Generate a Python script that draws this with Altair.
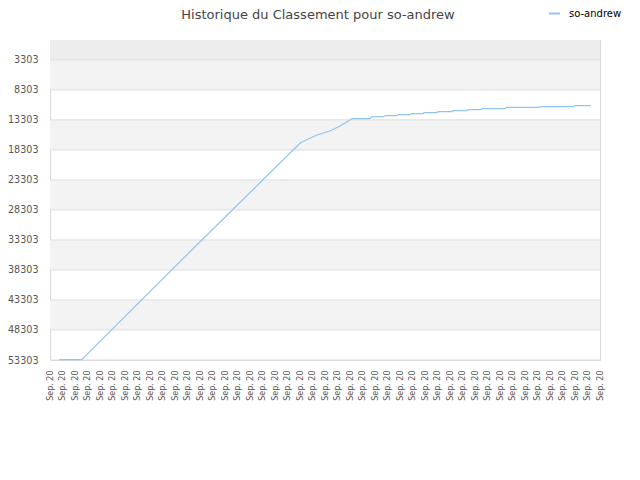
import json
import altair as alt
import pandas as pd

# ---- data ----
x_labels = ["Sep. 20"] * 45
y_ticks = [3303, 8303, 13303, 18303, 23303, 28303, 33303, 38303, 43303, 48303, 53303]

series_name = "so-andrew"
point_x = [0.74, 2.54, 5.42, 11.34, 17.07, 20.04, 21.34, 22.4, 23.2, 24.08,
           24.14, 25.6, 25.74, 26.66, 26.8, 27.74, 27.84, 28.8, 28.94, 29.86,
           29.92, 30.94, 31.04, 32.14, 32.24, 33.34, 33.42, 34.4, 34.56, 36.4,
           36.54, 39.14, 39.26, 41.86, 41.98, 43.26]
point_rank = [53240, 53240, 47256, 34980, 23203, 17124, 15824, 15158, 14325, 13209,
              13109, 13109, 12776, 12776, 12609, 12609, 12443, 12443, 12276, 12276,
              12110, 12110, 11943, 11943, 11776, 11776, 11610, 11610, 11443, 11443,
              11210, 11210, 11110, 11110, 10944, 10944]

band_start = [0, 3303, 13303, 23303, 33303, 43303]
band_end = [3303, 8303, 18303, 28303, 38303, 48303]
band_fill = ["#ededed", "#f3f3f3", "#f3f3f3", "#f3f3f3", "#f3f3f3", "#f3f3f3"]

line_df = pd.DataFrame({"idx": point_x, "rank": point_rank, "series": series_name})
band_df = pd.DataFrame({"y1": band_start, "y2": band_end, "fill": band_fill})

y_scale = alt.Scale(domain=[0, 53303], reverse=True, nice=False, zero=False)
x_scale = alt.Scale(domain=[0, 44], nice=False, zero=False)

y_axis = alt.Axis(values=y_ticks, title=None, grid=False, domain=False, ticks=False,
                  labelPadding=12, labelFontSize=9.6, labelColor="#555555",
                  labelFont="DejaVu Sans", format="d")

bands = alt.Chart(band_df).mark_rect(strokeWidth=0).encode(
    y=alt.Y("y1:Q", scale=y_scale, axis=y_axis),
    y2="y2:Q",
    x=alt.value(0),
    x2=alt.value(550),
    fill=alt.Fill("fill:N", scale=None),
)

grid = alt.Chart(pd.DataFrame({"t": y_ticks})).mark_rule(color="#dddddd", strokeWidth=1).encode(
    y=alt.Y("t:Q", scale=y_scale, axis=y_axis),
    x=alt.value(0),
    x2=alt.value(550),
)

line = alt.Chart(line_df).mark_line(strokeWidth=1.2).encode(
    x=alt.X("idx:Q", scale=x_scale,
            axis=alt.Axis(values=list(range(45)), title=None, grid=False, domain=False,
                          ticks=False, labelAngle=-90, labelAlign="right", labelBaseline="middle",
                          labelPadding=10, labelFontSize=8, labelColor="#555555",
                          labelFont="DejaVu Sans", labelOverlap=False,
                          labelExpr=json.dumps(x_labels) + "[round(datum.value)]")),
    y=alt.Y("rank:Q", scale=y_scale, axis=y_axis),
    color=alt.Color("series:N", scale=alt.Scale(range=["#92c4f2"]),
                    legend=alt.Legend(title=None, orient="none", legendX=498, legendY=-33,
                                      symbolType="stroke", symbolSize=120, symbolStrokeWidth=2,
                                      labelFontSize=10, labelFont="DejaVu Sans",
                                      labelColor="#000000", padding=0, labelOffset=8)),
)

chart = alt.layer(bands, grid, line).resolve_scale(y="shared").properties(
    width=550,
    height=320,
    autosize=alt.AutoSizeParams(type="none"),
    padding={"left": 42, "top": 32, "right": 32, "bottom": 112},
    title=alt.TitleParams("Historique du Classement pour so-andrew", fontSize=13,
                          font="DejaVu Sans", fontWeight="normal", color="#444444",
                          anchor="middle", frame="group", dx=-7, offset=0,
                          baseline="alphabetic", dy=25),
).configure_view(stroke="#d9d9d9", strokeWidth=1)

chart.save("out.html", embed_options={"renderer": "svg", "actions": False})
